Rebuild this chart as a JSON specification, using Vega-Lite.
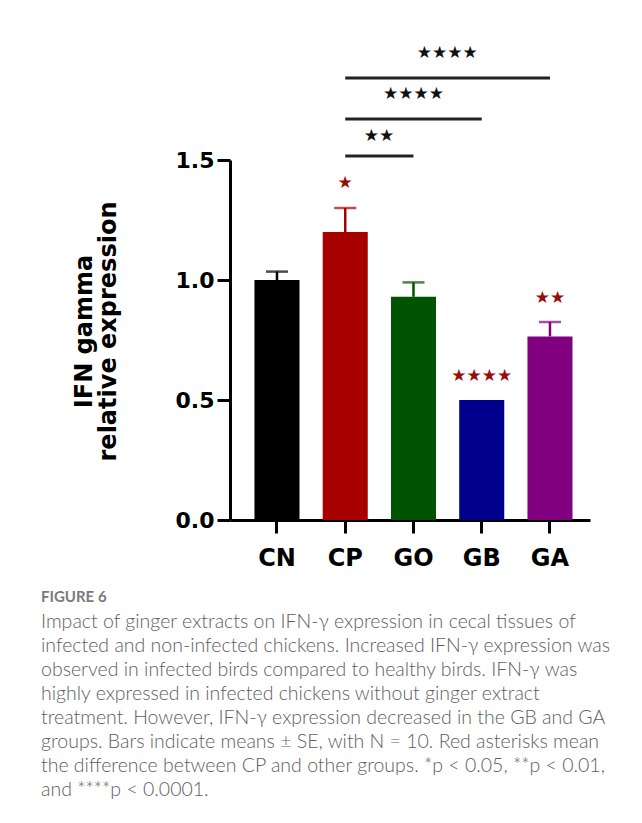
{
  "$schema": "https://vega.github.io/schema/vega-lite/v6.json",
  "autosize": {"type": "none"},
  "width": 360,
  "height": 360,
  "padding": {"left": 230, "top": 160, "right": 52, "bottom": 303},
  "background": "white",
  "datasets": {
    "bars": [
      {"group": "CN", "mean": 1.0, "upper": 1.035, "sig": null, "sigLevel": null},
      {"group": "CP", "mean": 1.2, "upper": 1.3, "sig": "★", "sigLevel": 1.405},
      {"group": "GO", "mean": 0.93, "upper": 0.99, "sig": null, "sigLevel": null},
      {"group": "GB", "mean": 0.5, "upper": null, "sig": "★★★★", "sigLevel": 0.6},
      {"group": "GA", "mean": 0.765, "upper": 0.825, "sig": "★★", "sigLevel": 0.925}
    ],
    "comparisons": [
      {"from": "CP", "to": "GO", "level": 1.517},
      {"from": "CP", "to": "GB", "level": 1.671},
      {"from": "CP", "to": "GA", "level": 1.842}
    ],
    "gapStars": [
      {"after": "CP", "level": 1.598, "label": "★★"},
      {"after": "GO", "level": 1.946, "label": "★★★★"}
    ],
    "centerStars": [
      {"at": "GO", "level": 1.775, "label": "★★★★"}
    ]
  },
  "title": {
    "text": "FIGURE 6",
    "subtitle": [
      "Impact of ginger extracts on IFN-γ expression in cecal tissues of",
      "infected and non-infected chickens. Increased IFN-γ expression was",
      "observed in infected birds compared to healthy birds. IFN-γ was",
      "highly expressed in infected chickens without ginger extract",
      "treatment. However, IFN-γ expression decreased in the GB and GA",
      "groups. Bars indicate means ± SE, with N = 10. Red asterisks mean",
      "the difference between CP and other groups. *p < 0.05, **p < 0.01,",
      "and ****p < 0.0001."
    ],
    "orient": "bottom",
    "anchor": "start",
    "frame": "group",
    "dx": -189,
    "offset": 20,
    "font": "Lato",
    "fontSize": 15,
    "fontWeight": "bold",
    "color": "#7a7a7a",
    "subtitleFont": "Lato",
    "subtitleFontSize": 19.5,
    "subtitleFontWeight": 300,
    "subtitleColor": "#5e5e5e",
    "subtitleLineHeight": 24,
    "subtitlePadding": 8
  },
  "config": {
    "view": {"stroke": null},
    "axis": {
      "domainColor": "black",
      "domainWidth": 3,
      "tickColor": "black",
      "tickWidth": 3,
      "tickSize": 13,
      "grid": false,
      "labelColor": "black",
      "labelFont": "DejaVu Sans",
      "labelFontWeight": "bold",
      "titleColor": "black",
      "titleFont": "DejaVu Sans",
      "titleFontWeight": "bold"
    }
  },
  "layer": [
    {
      "data": {"name": "bars"},
      "mark": {"type": "bar"},
      "encoding": {
        "x": {
          "field": "group",
          "type": "nominal",
          "scale": {"domain": ["CN", "CP", "GO", "GB", "GA"], "paddingInner": 0.34, "paddingOuter": 0.3075, "align": 0.583},
          "axis": {"title": null, "labelAngle": 0, "labelFontSize": 24, "labelPadding": 13}
        },
        "y": {
          "field": "mean",
          "type": "quantitative",
          "scale": {"domain": [0, 1.5], "nice": false, "zero": true},
          "axis": {
            "values": [0, 0.5, 1, 1.5],
            "format": ".1f",
            "labelFontSize": 22,
            "labelPadding": 3,
            "title": ["IFN gamma", "relative expression"],
            "titleFontSize": 24,
            "titleLineHeight": 24,
            "titleAngle": -90,
            "titleBaseline": "middle",
            "titleAlign": "center",
            "titleX": -146,
            "titleY": 171
          }
        },
        "color": {
          "field": "group",
          "type": "nominal",
          "scale": {"domain": ["CN", "CP", "GO", "GB", "GA"], "range": ["#000000", "#a80000", "#005300", "#00008c", "#800080"]},
          "legend": null
        }
      }
    },
    {
      "data": {"name": "bars"},
      "transform": [{"filter": "datum.upper != null"}],
      "mark": {"type": "rule", "strokeWidth": 2.5},
      "encoding": {
        "x": {"field": "group", "type": "nominal"},
        "y": {"field": "mean", "type": "quantitative"},
        "y2": {"field": "upper"},
        "color": {"field": "group", "type": "nominal", "legend": null}
      }
    },
    {
      "data": {"name": "bars"},
      "transform": [{"filter": "datum.upper != null"}],
      "mark": {"type": "tick", "size": 22, "thickness": 2.5},
      "encoding": {
        "x": {"field": "group", "type": "nominal"},
        "y": {"field": "upper", "type": "quantitative"},
        "color": {"field": "group", "type": "nominal", "legend": null}
      }
    },
    {
      "data": {"name": "bars"},
      "transform": [{"filter": "datum.sig != null"}],
      "mark": {"type": "text", "font": "DejaVu Sans", "fontSize": 17, "color": "#980c0c", "baseline": "middle", "align": "center"},
      "encoding": {
        "x": {"field": "group", "type": "nominal"},
        "y": {"field": "sigLevel", "type": "quantitative"},
        "text": {"field": "sig"}
      }
    },
    {
      "data": {"name": "comparisons"},
      "mark": {"type": "rule", "strokeWidth": 3, "color": "#222222"},
      "encoding": {
        "x": {"field": "from", "type": "nominal"},
        "x2": {"field": "to"},
        "y": {"field": "level", "type": "quantitative"}
      }
    },
    {
      "data": {"name": "gapStars"},
      "mark": {"type": "text", "font": "DejaVu Sans", "fontSize": 17, "color": "#111111", "baseline": "middle", "align": "center"},
      "encoding": {
        "x": {"field": "after", "type": "nominal", "bandPosition": 1.25},
        "y": {"field": "level", "type": "quantitative"},
        "text": {"field": "label"}
      }
    },
    {
      "data": {"name": "centerStars"},
      "mark": {"type": "text", "font": "DejaVu Sans", "fontSize": 17, "color": "#111111", "baseline": "middle", "align": "center"},
      "encoding": {
        "x": {"field": "at", "type": "nominal"},
        "y": {"field": "level", "type": "quantitative"},
        "text": {"field": "label"}
      }
    }
  ]
}
